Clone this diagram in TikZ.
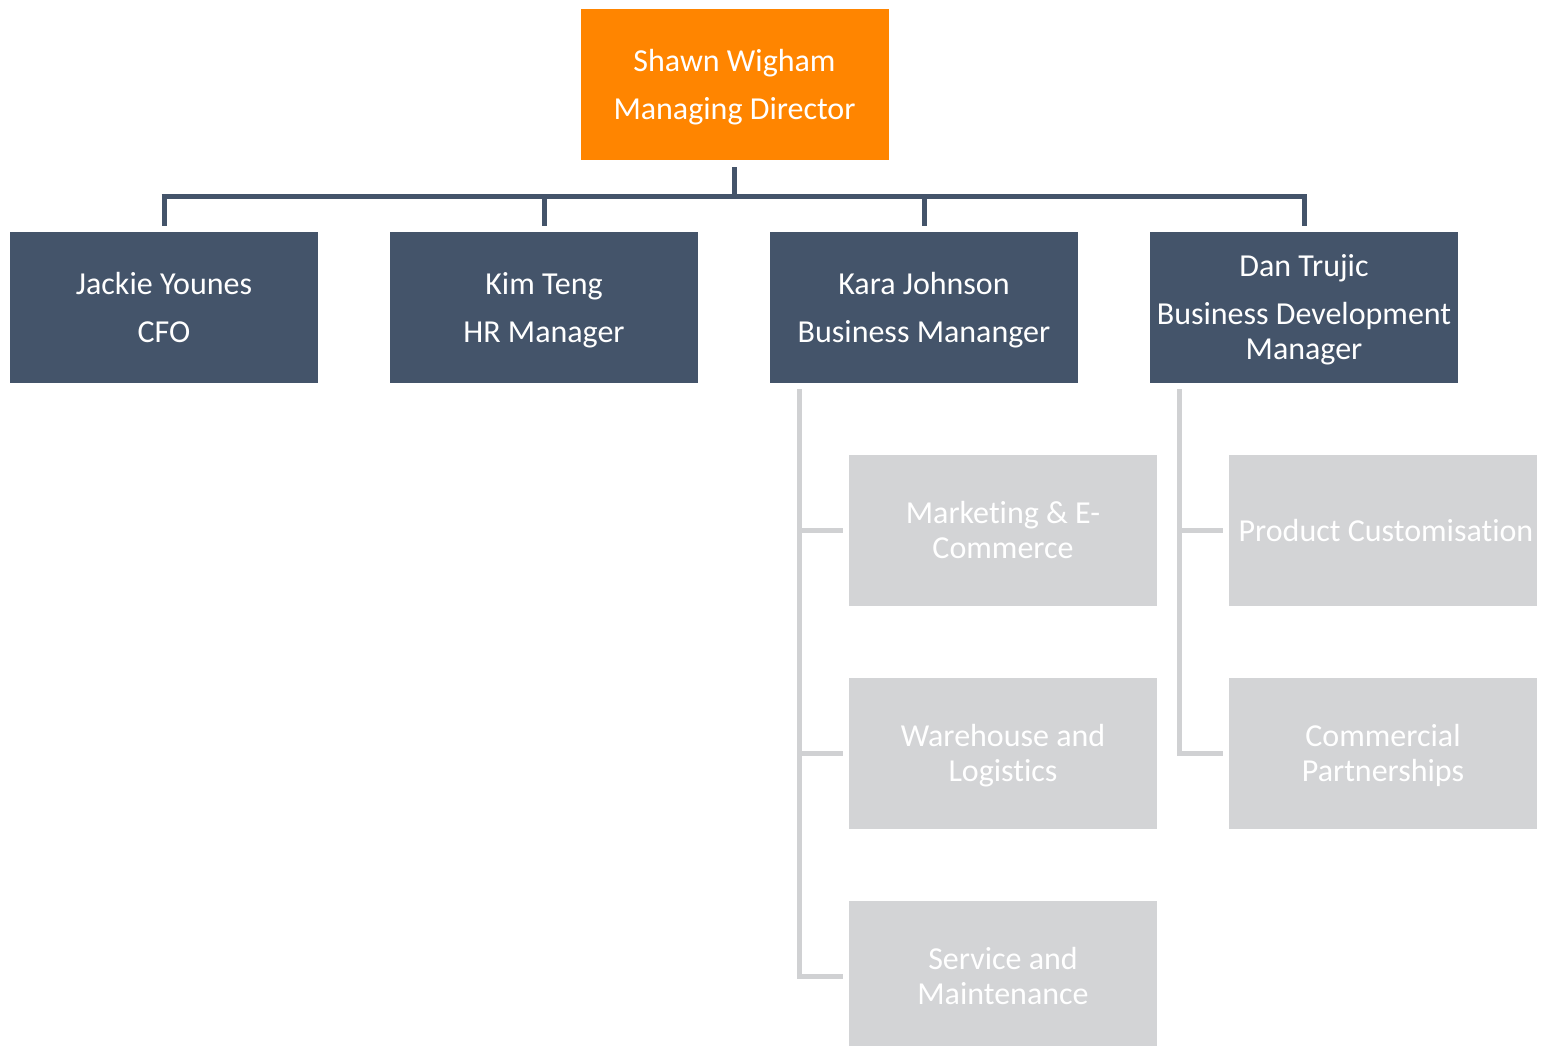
\documentclass[tikz,border=0pt]{standalone}
\usepackage{fontspec}
\setmainfont{Carlito}[Ligatures={NoCommon}]
\definecolor{mdorange}{HTML}{FF8500}
\definecolor{slate}{HTML}{44546A}
\definecolor{lightbox}{HTML}{D3D4D6}
\definecolor{lightline}{HTML}{D0D1D3}
\newcommand{\topst}{\vphantom{Ag}\rule{0pt}{26.6pt}}
\newcommand{\bs}{\vphantom{Ag}}
\tikzset{
  box/.style={minimum width=308pt, minimum height=151pt, inner sep=0pt, align=center,
    text=white, font=\fontsize{32}{35}\selectfont},
  topbox/.style={box, fill=mdorange},
  mgrbox/.style={box, fill=slate},
  deptbox/.style={box, fill=lightbox},
  bus/.style={draw=slate, line width=5pt},
  graybus/.style={draw=lightline, line width=5pt, line join=miter},
}
\begin{document}
\begin{tikzpicture}[x=1pt,y=-1pt]
\useasboundingbox (0,0) rectangle (1546,1045);
% top
\node[topbox] (md) at (734.5,84.5) {\topst Shawn Wigham\\[13pt]Managing Director\bs};
% managers
\node[mgrbox] (jy) at (164,307.5) {\topst Jackie Younes\\[13pt]CFO\bs};
\node[mgrbox] (kt) at (544,307.5) {\topst Kim Teng\\[13pt]HR Manager\bs};
\node[mgrbox] (kj) at (924,307.5) {\topst Kara Johnson\\[13pt]Business Mananger\bs};
\node[mgrbox] (dt) at (1304,307.5) {\topst Dan Trujic\\[13pt]Business Development\\Manager\bs};
% departments
\node[deptbox] (me) at (1003,530.5) {\topst Marketing \& E-\\Commerce\bs};
\node[deptbox] (wl) at (1003,753.5) {\topst Warehouse and\\Logistics\bs};
\node[deptbox] (sm) at (1003,976.5) {\topst Service and\\Maintenance\bs};
\node[deptbox] (pc) at (1383,530.5) {\topst\hspace{6pt}Product Customisation\bs};
\node[deptbox] (cp) at (1383,753.5) {\topst Commercial\\Partnerships\bs};
% bus
\coordinate (busy) at (0,196.5);
\draw[bus] ([yshift=-7pt]md.south) -- (md.south |- busy);
\draw[bus] ([xshift=-2.5pt]jy.north |- busy) -- ([xshift=2.5pt]dt.north |- busy);
\foreach \n in {jy,kt,kj,dt}{
  \draw[bus] (\n.north |- busy) -- ([yshift=6pt]\n.north);
}
% gray trees
\coordinate (kjl) at (799.5,389);
\coordinate (dtl) at (1179.5,389);
\draw[graybus] (kjl) -- (kjl |- sm.west) -- ([xshift=-6pt]sm.west);
\draw[graybus] (kjl |- me.west) -- ([xshift=-6pt]me.west);
\draw[graybus] (kjl |- wl.west) -- ([xshift=-6pt]wl.west);
\draw[graybus] (dtl) -- (dtl |- cp.west) -- ([xshift=-6pt]cp.west);
\draw[graybus] (dtl |- pc.west) -- ([xshift=-6pt]pc.west);
\end{tikzpicture}
\end{document}
